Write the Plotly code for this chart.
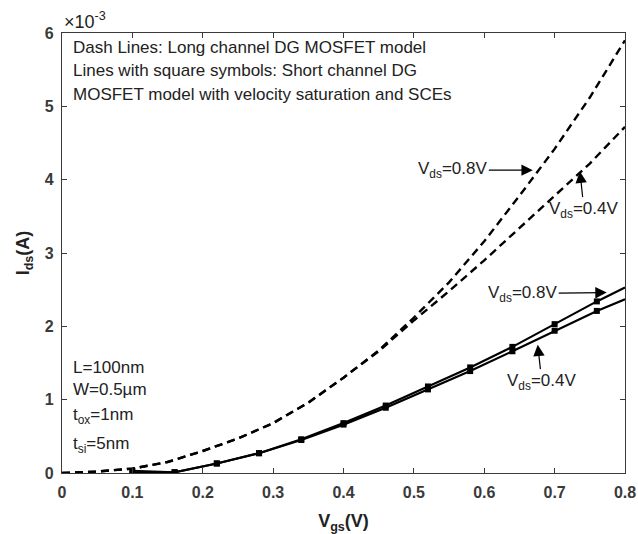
import plotly.graph_objects as go

# ---- data (I_ds in units of 1e-3 A) ----
vgs_long = [0.00, 0.05, 0.10, 0.15, 0.20, 0.25, 0.30, 0.35, 0.40, 0.45, 0.50,
            0.55, 0.60, 0.65, 0.70, 0.75, 0.80]
ids_long_08 = [0.00, 0.02, 0.06, 0.15, 0.30, 0.47, 0.68, 0.96, 1.30, 1.67, 2.12,
               2.60, 3.16, 3.78, 4.42, 5.12, 5.90]
ids_long_04 = [0.00, 0.02, 0.06, 0.15, 0.30, 0.47, 0.68, 0.96, 1.30, 1.66, 2.08,
               2.48, 2.90, 3.34, 3.78, 4.22, 4.72]

vgs_short = [0.10, 0.16, 0.22, 0.28, 0.34, 0.40, 0.46, 0.52, 0.58, 0.64, 0.70, 0.76, 0.80]
ids_short_08 = [0.03, 0.01, 0.13, 0.27, 0.46, 0.68, 0.92, 1.18, 1.44, 1.72, 2.03, 2.34, 2.53]
ids_short_04 = [0.00, 0.01, 0.13, 0.27, 0.45, 0.66, 0.89, 1.14, 1.39, 1.66, 1.94, 2.21, 2.37]
n_markers = 12  # squares drawn at the first 12 sample points

x_ticks = [0, 0.1, 0.2, 0.3, 0.4, 0.5, 0.6, 0.7, 0.8]
y_ticks = [0, 1, 2, 3, 4, 5, 6]

FONT = "Liberation Sans, Arial, Helvetica, sans-serif"
AX = "#3a3a3a"
TXT = "#222222"

fig = go.Figure()

for ys in (ids_long_08, ids_long_04):
    fig.add_trace(go.Scatter(x=vgs_long, y=ys, mode="lines",
                             line=dict(color="black", width=2.4, dash="8px,5px"),
                             showlegend=False, hoverinfo="skip"))

for ys in (ids_short_08, ids_short_04):
    fig.add_trace(go.Scatter(x=vgs_short, y=ys, mode="lines",
                             line=dict(color="black", width=2.2),
                             showlegend=False, hoverinfo="skip"))
    fig.add_trace(go.Scatter(x=vgs_short[:n_markers], y=ys[:n_markers], mode="markers",
                             marker=dict(symbol="square", size=6, color="black"),
                             showlegend=False, hoverinfo="skip"))

axis_common = dict(showline=True, mirror="ticks", linecolor=AX, linewidth=1.2,
                   ticks="inside", ticklen=5, tickcolor=AX, tickwidth=1,
                   showgrid=False, zeroline=False, automargin=False,
                   tickfont=dict(family=FONT, size=16, color="#3a3a3a"))

fig.update_xaxes(range=[0, 0.8], tickvals=x_ticks,
                 ticktext=["<b>%g</b>" % v for v in x_ticks],
                 ticklabelstandoff=5,
                 title=dict(text="<b>V<sub>gs</sub>(V)</b>", standoff=14,
                            font=dict(family=FONT, size=18, color=TXT)),
                 **axis_common)
fig.update_yaxes(range=[0, 6], tickvals=y_ticks,
                 ticktext=["<b>%d</b>" % v for v in y_ticks],
                 ticklabelstandoff=4,
                 title=dict(text="<b>I<sub>ds</sub>(A)</b>", standoff=10,
                            font=dict(family=FONT, size=18, color=TXT)),
                 **axis_common)

fig.update_layout(
    width=638, height=534,
    margin=dict(l=62, r=13, t=33, b=61),
    paper_bgcolor="white", plot_bgcolor="white",
    font=dict(family=FONT, color=TXT),
)

ann = []
ann.append(dict(xref="paper", yref="paper", x=0.0, y=1.0, xanchor="left", yanchor="bottom",
                text="×10<sup>-3</sup>", showarrow=False, yshift=-1,
                font=dict(family=FONT, size=18, color=TXT)))

plot_h = 440.0
def py2paper(py):
    return (473 - py) / plot_h

desc = ["Dash Lines: Long channel DG MOSFET model",
        "Lines with square symbols: Short channel DG",
        "MOSFET model with velocity saturation and SCEs"]
for t, py in zip(desc, [48, 71, 95]):
    ann.append(dict(xref="paper", yref="paper", x=9/563, y=py2paper(py),
                    xanchor="left", yanchor="middle", text=t, showarrow=False,
                    font=dict(family=FONT, size=17, color=TXT)))

params = ["L=100nm", "W=0.5µm", "t<sub>ox</sub>=1nm", "t<sub>si</sub>=5nm"]
for t, py in zip(params, [367, 389, 416, 445]):
    ann.append(dict(xref="paper", yref="paper", x=9/563, y=py2paper(py),
                    xanchor="left", yanchor="middle", text=t, showarrow=False,
                    font=dict(family=FONT, size=17, color=TXT)))

arrow_style = dict(showarrow=True, arrowhead=2, arrowsize=1.9, arrowwidth=1.2,
                   arrowcolor="black", font=dict(family=FONT, size=17, color=TXT))
ann.append(dict(x=0.669, y=4.13, xref="x", yref="y",
                text="V<sub>ds</sub>=0.8V", ax=-80, ay=0, **arrow_style))
ann.append(dict(x=0.736, y=4.11, xref="x", yref="y",
                text="V<sub>ds</sub>=0.4V", ax=4, ay=38, **arrow_style))
ann.append(dict(x=0.774, y=2.46, xref="x", yref="y",
                text="V<sub>ds</sub>=0.8V", ax=-84, ay=1, **arrow_style))
ann.append(dict(x=0.676, y=1.75, xref="x", yref="y",
                text="V<sub>ds</sub>=0.4V", ax=4, ay=37, **arrow_style))

fig.update_layout(annotations=ann)
fig.write_html("out.html", config={"displayModeBar": False},
               post_script="document.body.style.margin='0';document.body.style.overflow='hidden';")
